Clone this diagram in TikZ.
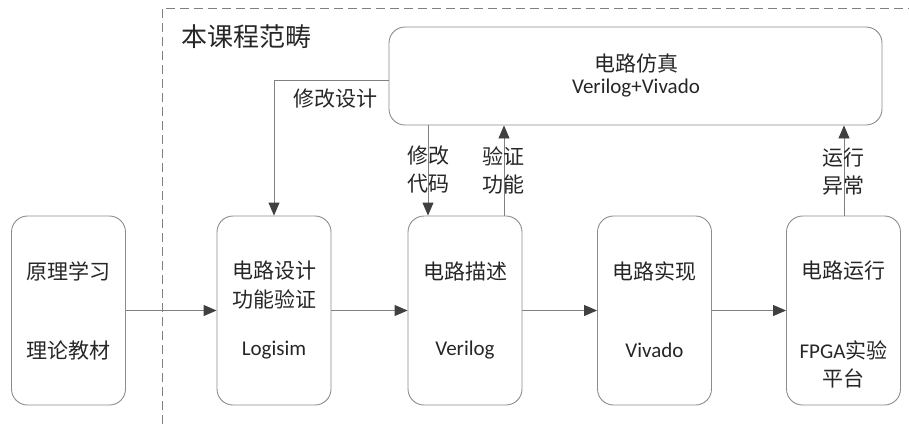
\documentclass[tikz,border=0pt]{standalone}
\usepackage{fontspec}
\setmainfont{Carlito}
\newfontfamily\cjk{Noto Sans CJK SC}
\usetikzlibrary{arrows.meta}
\definecolor{boxc}{HTML}{8C8C8C}
\definecolor{linec}{HTML}{808080}
\definecolor{tipc}{HTML}{404040}
\definecolor{txtc}{HTML}{262626}
\begin{document}
\begin{tikzpicture}[x=1pt,y=-1pt,
  box/.style={draw=boxc, line width=0.9pt, rounded corners=16pt, inner sep=0pt},
  bbox/.style={box, minimum width=114pt, minimum height=189pt},
  txt/.style={text=txtc, inner sep=0pt, font=\fontsize{21}{28}\selectfont, align=center},
  arr/.style={draw=linec, line width=0.9pt, -{Triangle[length=13pt,width=11pt,color=tipc]}}
]
\useasboundingbox (0,0) rectangle (909,424);
% dashed frame
\coordinate (fa) at (162,424);
\coordinate (fb) at (162,8);
\coordinate (fc) at (909,8);
\draw[linec, line width=0.9pt, dash pattern=on 9pt off 5pt] (fa) -- (fb) -- (fc);
\node[txt, font=\fontsize{26}{30}\selectfont, anchor=west] (title) at (181,37) {\cjk 本课程范畴};
% top box
\node[box, minimum width=493pt, minimum height=98pt] (top) at (635.5,76) {};
\node[txt] (topa) at (636,64) {\cjk 电路仿真};
\node[txt] (topb) at (636,88) {Verilog+Vivado};
% bottom boxes
\node[bbox] (b1) at (68.5,310.5) {};
\node[bbox] (b2) at (274,310.5) {};
\node[bbox] (b3) at (465,310.5) {};
\node[bbox] (b4) at (654.5,310.5) {};
\node[bbox] (b5) at (843.5,310.5) {};
\node[txt] (t1a) at (68.5,271) {\cjk 原理学习};
\node[txt] (t1b) at (68.5,351) {\cjk 理论教材};
\node[txt] (t2a) at (274,271) {\cjk 电路设计};
\node[txt] (t2b) at (274,299) {\cjk 功能验证};
\node[txt] (t2c) at (274,350) {Logisim};
\node[txt] (t3a) at (465,271) {\cjk 电路描述};
\node[txt] (t3c) at (465,350) {Verilog};
\node[txt] (t4a) at (654.5,271) {\cjk 电路实现};
\node[txt] (t4c) at (654.5,350) {Vivado};
\node[txt] (t5a) at (843.5,271) {\cjk 电路运行};
\node[txt] (t5b) at (843.5,350) {FPGA{\cjk 实验}};
\node[txt] (t5c) at (843.5,378) {\cjk 平台};
% horizontal arrows
\draw[arr] (b1.east) -- (b2.west);
\draw[arr] (b2.east) -- (b3.west);
\draw[arr] (b3.east) -- (b4.west);
\draw[arr] (b4.east) -- (b5.west);
% feedback arrows
\draw[arr] ([yshift=-4pt]top.west) -| (b2.north);
\node[txt] (l1) at (335,99) {\cjk 修改设计};
\coordinate (x1) at (428,0);
\coordinate (x2) at (504,0);
\coordinate (x3) at (844,0);
\draw[arr] (top.south -| x1) -- (b3.north -| x1);
\draw[arr] (b3.north -| x2) -- (top.south -| x2);
\draw[arr] (b5.north -| x3) -- (top.south -| x3);
\node[txt] (l2) at (428,170) {\cjk 修改\\\cjk 代码};
\node[txt] (l3) at (503,170) {\cjk 验证\\\cjk 功能};
\node[txt] (l4) at (843,172) {\cjk 运行\\\cjk 异常};
\end{tikzpicture}
\end{document}
